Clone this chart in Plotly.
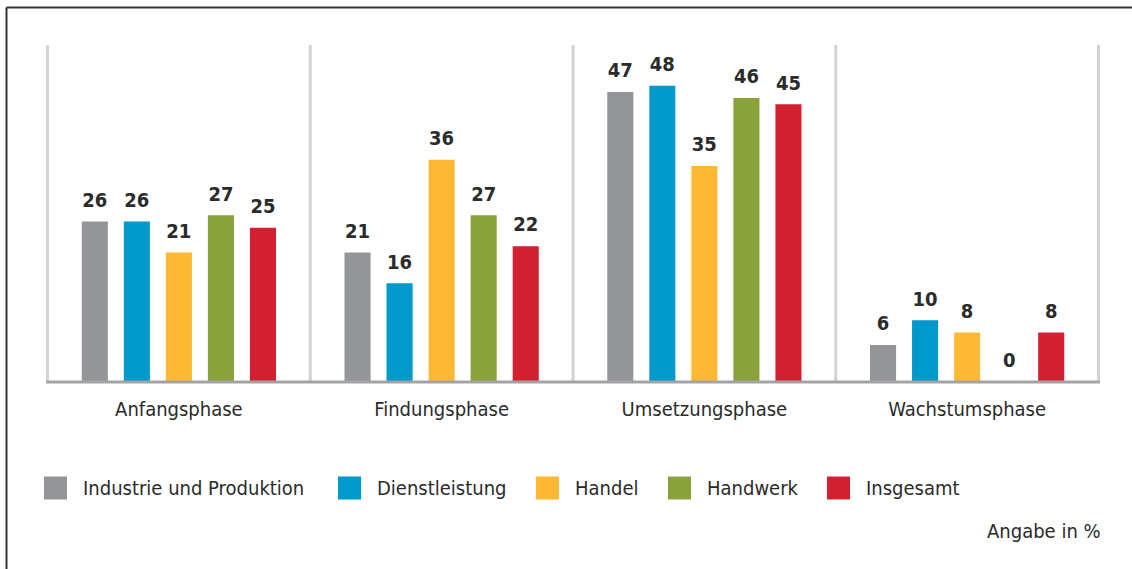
import plotly.graph_objects as go

categories = ["Anfangsphase", "Findungsphase", "Umsetzungsphase", "Wachstumsphase"]
series_names = ["Industrie und Produktion", "Dienstleistung", "Handel", "Handwerk", "Insgesamt"]
industrie = [26, 21, 47, 6]
dienstleistung = [26, 16, 48, 10]
handel = [21, 36, 35, 8]
handwerk = [27, 27, 46, 0]
insgesamt = [25, 22, 45, 8]
series_values = [industrie, dienstleistung, handel, handwerk, insgesamt]
colors = ["#939598", "#0099cc", "#fdb933", "#8aa23b", "#d22030"]
note_text = "Angabe in %"

FONT = "DejaVu Sans Condensed, Liberation Sans Narrow, sans-serif"
TEXT_COLOR = "#2b2b2b"

# page body margin is removed by post_script, so figure coords == screen coords
OX, OY = 0, 0
W, H = 1132, 569
L, T = 46 - OX, 45 - OY
R = W - (1100 - OX)
B = H - (382 - OY)
PW, PH = W - L - R, H - T - B


def px_x(px):
    return (px - OX - L) / PW


def px_y(py):
    return (H - B - (py - OY)) / PH


fig = go.Figure()
for name, vals, col in zip(series_names, series_values, colors):
    fig.add_trace(go.Bar(
        x=categories, y=vals, name=name, marker_color=col,
        marker_line_width=0, offsetgroup=name, showlegend=False,
        hoverinfo="x+y+name",
    ))
for name, vals in zip(series_names, series_values):
    fig.add_trace(go.Scatter(
        x=categories, y=vals, mode="markers+text", offsetgroup=name,
        text=[str(v) for v in vals], textposition="top center",
        marker=dict(size=14, opacity=0), showlegend=False, hoverinfo="skip",
        textfont=dict(family=FONT, size=20, color=TEXT_COLOR, weight="bold"),
        cliponaxis=False,
    ))

shapes = []
# vertical separators
for i in range(len(categories) + 1):
    shapes.append(dict(type="line", xref="x", yref="paper", x0=i - 0.5, x1=i - 0.5,
                       y0=0, y1=1, line=dict(color="#d3d3d3", width=3), layer="below"))
# baseline
shapes.append(dict(type="line", xref="paper", yref="paper", x0=0, x1=1, y0=0, y1=0,
                   line=dict(color="#a3a3a3", width=3)))
# frame border (left and top)
shapes.append(dict(type="line", xref="paper", yref="paper", x0=px_x(6.5), x1=px_x(6.5),
                   y0=px_y(7.5), y1=px_y(620), line=dict(color="#333333", width=2)))
shapes.append(dict(type="line", xref="paper", yref="paper", x0=px_x(6.5), x1=px_x(1200),
                   y0=px_y(7.5), y1=px_y(7.5), line=dict(color="#333333", width=2)))

annotations = []
legend_x = [44, 338, 536, 668, 827]
legend_cy = 488
sq = 23
for lx, name, col in zip(legend_x, series_names, colors):
    shapes.append(dict(type="rect", xref="paper", yref="paper",
                       x0=px_x(lx), x1=px_x(lx + sq),
                       y0=px_y(legend_cy + sq / 2), y1=px_y(legend_cy - sq / 2),
                       fillcolor=col, line=dict(width=0)))
    annotations.append(dict(xref="paper", yref="paper", x=px_x(lx + 37), y=px_y(legend_cy),
                            xanchor="left", yanchor="middle", text=name, showarrow=False,
                            font=dict(family=FONT, size=20, color=TEXT_COLOR)))
annotations.append(dict(xref="paper", yref="paper", x=px_x(1103), y=px_y(531),
                        xanchor="right", yanchor="middle", text=note_text, showarrow=False,
                        font=dict(family=FONT, size=20, color=TEXT_COLOR)))

fig.update_layout(
    width=W, height=H,
    margin=dict(l=L, r=R, t=T, b=B, pad=0),
    paper_bgcolor="white", plot_bgcolor="white",
    barmode="group", bargap=0.2, bargroupgap=0.38,
    scattermode="group", scattergap=0.2,
    shapes=shapes, annotations=annotations,
    xaxis=dict(showgrid=False, zeroline=False, showline=False, ticks="",
               ticklabelstandoff=13,
               tickfont=dict(family=FONT, size=20, color=TEXT_COLOR), fixedrange=True),
    yaxis=dict(range=[0, 54.6], visible=False, showgrid=False, fixedrange=True),
    showlegend=False,
)

fig.write_html(
    "out.html",
    config={"displayModeBar": False, "staticPlot": False},
    post_script="document.body.style.margin='0';document.body.style.overflow='hidden';",
)
